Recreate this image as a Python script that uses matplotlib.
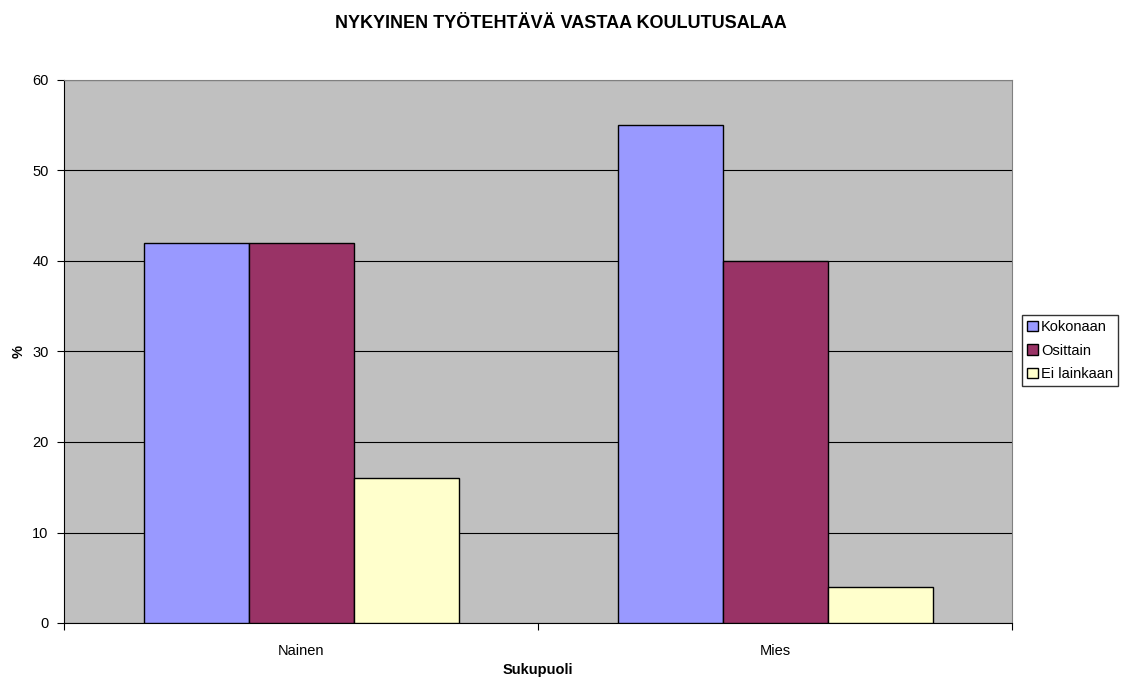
import numpy as np
import matplotlib
matplotlib.use('Agg')
import matplotlib.pyplot as plt

plt.rcParams['font.family'] = ['Liberation Sans', 'DejaVu Sans']

categories = ['Nainen', 'Mies']
series_names = ['Kokonaan', 'Osittain', 'Ei lainkaan']
kokonaan = [42, 55]
osittain = [42, 40]
ei_lainkaan = [16, 4]
colors = ['#9999FF', '#993366', '#FFFFCC']

fig = plt.figure(figsize=(11.22, 6.8), dpi=100)
ax = fig.add_axes([64/1122, 57/680, 948/1122, 543/680])
ax.set_facecolor('#C0C0C0')

x = np.arange(len(categories))
width = 105/474
for i, (vals, name) in enumerate(zip([kokonaan, osittain, ei_lainkaan], series_names)):
    ax.bar(x + (i - 1) * width, vals, width, color=colors[i], edgecolor='black',
           linewidth=1, label=name, zorder=3)

ax.set_xlim(-0.5, 1.5)
ax.set_ylim(0, 60)
ax.set_yticks(np.arange(0, 61, 10))
ax.yaxis.grid(True, color='black', linewidth=0.8, zorder=1)
ax.set_axisbelow(True)

ax.set_xticks([-0.5, 0.5, 1.5])
ax.set_xticklabels([])
ax.set_xticks(x, minor=True)
ax.set_xticklabels(categories, minor=True)
ax.tick_params(axis='x', which='minor', length=0, pad=15, labelsize=10.5)
ax.tick_params(axis='x', which='major', length=5, direction='out')
ax.tick_params(axis='y', length=5, labelsize=10.5, pad=6)

for s in ['top', 'right']:
    ax.spines[s].set_color('#808080')
ax.spines['left'].set_color('black')
ax.spines['bottom'].set_color('black')

ax.set_xlabel('Sukupuoli', fontsize=10.5, fontweight='bold')
ax.xaxis.set_label_coords(0.5, -(670 - 623) / 543)
ax.xaxis.label.set_va('center')
ax.set_ylabel('%', fontsize=10.5, fontweight='bold', labelpad=5)
fig.text(0.5, 1 - 24/680, 'NYKYINEN TYÖTEHTÄVÄ VASTAA KOULUTUSALAA', ha='center',
         va='center', fontsize=13, fontweight='bold')

leg = fig.legend(loc='upper left', bbox_to_anchor=(1022/1122, 1 - 315/680),
                 fontsize=10.5, frameon=True, fancybox=False, edgecolor='black',
                 handlelength=0.75, handleheight=0.75, handletextpad=0.2,
                 borderpad=0.35, labelspacing=0.65, borderaxespad=0)
leg.get_frame().set_linewidth(1)

fig.savefig('out.png', dpi=100)
